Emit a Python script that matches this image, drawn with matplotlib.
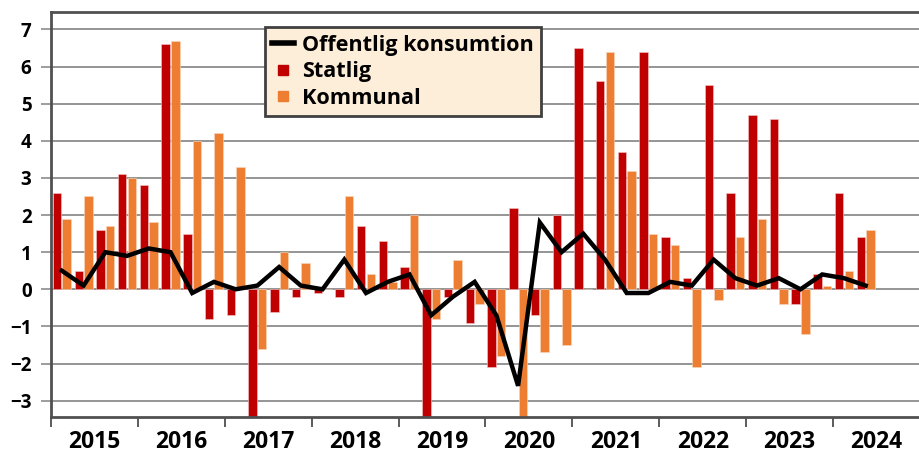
import numpy as np
import matplotlib
matplotlib.use("Agg")
import matplotlib.pyplot as plt
from matplotlib.lines import Line2D

plt.rcParams['font.family'] = ['Open Sans', 'DejaVu Sans']

# kvartalsdata 2015Q1 - 2024Q2
years = ['2015', '2016', '2017', '2018', '2019', '2020', '2021', '2022', '2023', '2024']
statlig = [2.6, 0.5, 1.6, 3.1, 2.8, 6.6, 1.5, -0.8, -0.7, -4.2, -0.6, -0.2,
           -0.1, -0.2, 1.7, 1.3, 0.6, -4.5, -0.2, -0.9, -2.1, 2.2, -0.7, 2.0,
           6.5, 5.6, 3.7, 6.4, 1.4, 0.3, 5.5, 2.6, 4.7, 4.6, -0.4, 0.4, 2.6, 1.4]
kommunal = [1.9, 2.5, 1.7, 3.0, 1.8, 6.7, 4.0, 4.2, 3.3, -1.6, 1.0, 0.7,
            0.0, 2.5, 0.4, 0.2, 2.0, -0.8, 0.8, -0.4, -1.8, -4.8, -1.7, -1.5,
            0.0, 6.4, 3.2, 1.5, 1.2, -2.1, -0.3, 1.4, 1.9, -0.4, -1.2, 0.1, 0.5, 1.6]
offentlig = [0.5, 0.1, 1.0, 0.9, 1.1, 1.0, -0.1, 0.2, 0.0, 0.1, 0.6, 0.1,
             0.0, 0.8, -0.1, 0.2, 0.4, -0.7, -0.2, 0.2, -0.7, -2.6, 1.8, 1.0,
             1.5, 0.8, -0.1, -0.1, 0.2, 0.1, 0.8, 0.3, 0.1, 0.3, 0.0, 0.4, 0.3, 0.1]

red = '#C00000'
orange = '#ED7D31'

fig = plt.figure(figsize=(9.2, 4.55), dpi=100)
ax = fig.add_axes([51/920, 1 - 417/455, 1 - 51/920, 405/455])

x = np.arange(len(statlig))
w = 0.39
ax.bar(x - 0.22, statlig, w, color=red, edgecolor='#f4c8c8', linewidth=0.4, zorder=2)
ax.bar(x + 0.22, kommunal, w, color=orange, edgecolor='#f8d8c0', linewidth=0.4, zorder=2)
ax.plot(x, offentlig, color='black', lw=3.2, solid_joinstyle='miter', zorder=3)

ax.set_xlim(-0.5, -0.5 + 869/21.9)
ax.set_ylim(-3.44, 7.47)

ax.set_yticks(range(-3, 8))
ax.yaxis.grid(True, color='#8c8c8c', lw=1.3, zorder=0)
ax.tick_params(axis='y', length=7, width=1.2, color='#8c8c8c', pad=7, labelsize=13.5)
for t in ax.get_yticklabels():
    t.set_fontweight('bold')

ax.set_xticks(np.arange(-0.5, 40, 4))
ax.set_xticklabels([])
ax.set_xticks(np.arange(1.5, 40, 4), minor=True)
ax.set_xticklabels(years, minor=True, fontsize=16.5, fontweight='bold')
ax.tick_params(axis='x', which='major', length=7, width=1.2, color='#404040')
ax.tick_params(axis='x', which='minor', length=0, pad=9)

for s in ['left', 'bottom', 'top']:
    ax.spines[s].set_color('#505050')
    ax.spines[s].set_linewidth(2)
ax.spines['right'].set_visible(False)

handles = [
    Line2D([], [], color='black', lw=4),
    Line2D([], [], color=red, marker='s', ms=7.5, lw=0),
    Line2D([], [], color=orange, marker='s', ms=7.5, lw=0),
]
leg = ax.legend(handles, ['Offentlig konsumtion', 'Statlig', 'Kommunal'],
                loc='upper left', bbox_to_anchor=(0.246, 0.962), borderaxespad=0,
                fancybox=False, framealpha=1, facecolor='#FDEEDA', edgecolor='#404040',
                prop={'weight': 'bold', 'size': 15.6}, handlelength=1.0,
                handletextpad=0.35, labelspacing=0.25, borderpad=0.35)
leg.get_frame().set_linewidth(2)
leg.set_zorder(5)

fig.savefig('out.png', dpi=100)
